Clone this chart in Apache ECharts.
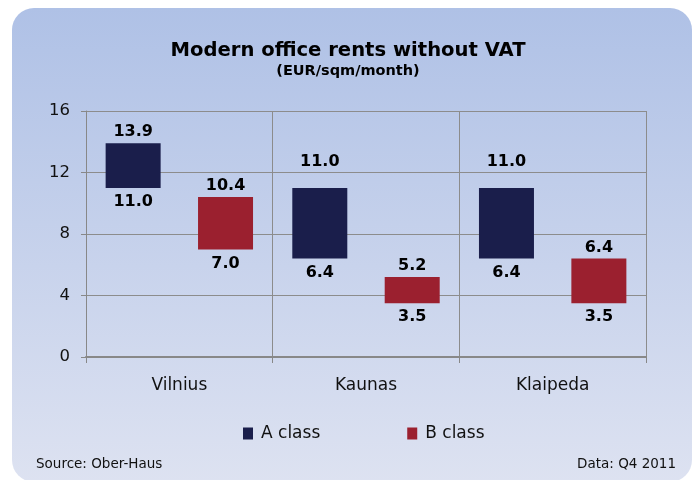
<!DOCTYPE html>
<html>
<head>
<meta charset="utf-8">
<script src="https://cdn.jsdelivr.net/npm/echarts@6/dist/echarts.min.js"></script>
<style>
  html, body { margin: 0; padding: 0; background: #fff; }
  #chart { width: 696px; height: 480px; }
</style>
</head>
<body>
<div id="chart"></div>
<script>
// rents, EUR/sqm/month, Q4 2011
var categories = ['Vilnius', 'Kaunas', 'Klaipeda'];
var aLow  = [11.0, 6.4, 6.4];
var aHigh = [13.9, 11.0, 11.0];
var bLow  = [7.0, 3.5, 3.5];
var bHigh = [10.4, 5.2, 6.4];
var yTicks = [0, 4, 8, 12, 16];

var navy = '#1a1e4b';
var red = '#9b202f';
var font = 'DejaVu Sans';

function rangeData(low, high, bigGap) {
    return high.map(function (h, i) {
        var item = { value: +(h - low[i]).toFixed(2) };
        if (bigGap && bigGap[i]) item.label = { distance: 18 };
        return item;
    });
}

var chart = echarts.init(document.getElementById('chart'));

var valueLabel = {
    show: true,
    color: '#000',
    fontFamily: font,
    fontWeight: 'bold',
    fontSize: 16
};

var option = {
    backgroundColor: '#fff',
    animation: false,
    graphic: [
        {
            type: 'rect',
            z: -10,
            silent: true,
            shape: { x: 12, y: 8, width: 680, height: 474, r: 22 },
            style: {
                fill: new echarts.graphic.LinearGradient(0, 0, 0, 1, [
                    { offset: 0, color: '#afc1e6' },
                    { offset: 1, color: '#dde2f1' }
                ])
            }
        },
        {
            type: 'text',
            left: 36,
            top: 457,
            style: { text: 'Source: Ober-Haus', fill: '#111', font: '13.5px ' + font }
        },
        {
            type: 'text',
            right: 20,
            top: 457,
            style: { text: 'Data: Q4 2011', fill: '#111', font: '13.5px ' + font }
        }
    ],
    title: {
        text: 'Modern office rents without VAT',
        subtext: '(EUR/sqm/month)',
        left: 'center',
        top: 36,
        itemGap: 3,
        textStyle: { fontFamily: font, fontSize: 19.6, fontWeight: 'bold', color: '#000' },
        subtextStyle: { fontFamily: font, fontSize: 14.5, fontWeight: 'bold', color: '#000' }
    },
    legend: {
        data: ['A class', 'B class'],
        bottom: 33,
        left: 238,
        itemWidth: 10,
        itemHeight: 12,
        itemGap: 87,
        icon: 'rect',
        textStyle: { fontFamily: font, fontSize: 17, color: '#111', padding: [0, 0, 0, 3] }
    },
    grid: { left: 86, right: 50, top: 111, bottom: 123 },
    xAxis: {
        type: 'category',
        data: categories,
        axisLine: { lineStyle: { color: '#888', width: 2 } },
        axisTick: { show: true, length: 6, lineStyle: { color: '#888' } },
        splitLine: { show: true, lineStyle: { color: '#8c8c8c' } },
        axisLabel: { fontFamily: font, fontSize: 17, color: '#111', margin: 20 }
    },
    yAxis: {
        type: 'value',
        min: yTicks[0],
        max: yTicks[yTicks.length - 1],
        interval: 4,
        axisLine: { show: true, lineStyle: { color: '#888' } },
        axisTick: { show: true, length: 5, lineStyle: { color: '#888' } },
        splitLine: { show: true, lineStyle: { color: '#8c8c8c' } },
        axisLabel: { fontFamily: font, fontSize: 16.5, color: '#111', margin: 16 }
    },
    series: [
        {
            name: 'A base',
            type: 'bar',
            stack: 'A',
            barWidth: 55,
            barGap: '68%',
            itemStyle: { color: 'transparent' },
            label: Object.assign({}, valueLabel, {
                position: 'insideTop',
                distance: 6,
                formatter: function (p) { return aLow[p.dataIndex].toFixed(1); }
            }),
            data: aLow
        },
        {
            name: 'A class',
            type: 'bar',
            stack: 'A',
            barWidth: 55,
            barGap: '68%',
            itemStyle: { color: navy },
            label: Object.assign({}, valueLabel, {
                position: 'top',
                distance: 3,
                formatter: function (p) { return aHigh[p.dataIndex].toFixed(1); }
            }),
            data: rangeData(aLow, aHigh, [false, true, true])
        },
        {
            name: 'B base',
            type: 'bar',
            stack: 'B',
            barWidth: 55,
            barGap: '68%',
            itemStyle: { color: 'transparent' },
            label: Object.assign({}, valueLabel, {
                position: 'insideTop',
                distance: 6,
                formatter: function (p) { return bLow[p.dataIndex].toFixed(1); }
            }),
            data: bLow
        },
        {
            name: 'B class',
            type: 'bar',
            stack: 'B',
            barWidth: 55,
            barGap: '68%',
            itemStyle: { color: red },
            label: Object.assign({}, valueLabel, {
                position: 'top',
                distance: 3,
                formatter: function (p) { return bHigh[p.dataIndex].toFixed(1); }
            }),
            data: rangeData(bLow, bHigh)
        }
    ]
};

chart.setOption(option);
window.addEventListener('resize', function () {
    chart.resize();
});
</script>
</body>
</html>
